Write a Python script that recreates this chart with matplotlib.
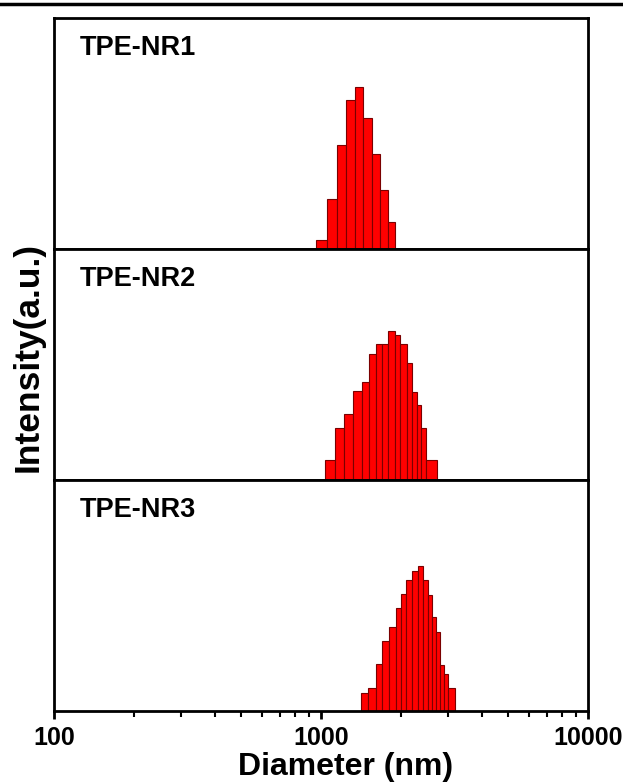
import matplotlib.pyplot as plt
import numpy as np
from matplotlib.ticker import LogLocator, NullFormatter, FixedLocator

plt.rcParams['font.family'] = ['Liberation Sans', 'DejaVu Sans']
plt.rcParams['font.weight'] = 'bold'

labels = ["TPE-NR1", "TPE-NR2", "TPE-NR3"]

# bin edges (nm) and intensities (a.u.)
nr1_edges = [958, 1050, 1145, 1241, 1341, 1440, 1548, 1663, 1787, 1893]
nr1_vals = [9, 50, 104, 149, 162, 131, 95, 59, 27]

nr2_edges = [1035, 1128, 1223, 1314, 1421, 1517, 1607, 1692, 1782, 1893,
             1976, 2093, 2186, 2282, 2368, 2466, 2712]
nr2_vals = [20, 52, 66, 89, 98, 126, 136, 136, 149, 145, 136, 117, 88, 75, 52, 20]

nr3_edges = [1412, 1503, 1603, 1697, 1798, 1904, 1993, 2076, 2186, 2302,
             2416, 2516, 2604, 2696, 2790, 2896, 2998, 3176]
nr3_vals = [18, 23, 47, 70, 84, 103, 117, 131, 140, 145, 131, 116, 94, 79, 46, 37, 23]

data = [(nr1_edges, nr1_vals), (nr2_edges, nr2_vals), (nr3_edges, nr3_vals)]

fig = plt.figure(figsize=(6.23, 7.82), dpi=100)
left, right = 54 / 623, 588 / 623
top, bottom = 1 - 18 / 782, 1 - 711 / 782
h = (top - bottom) / 3

axes = []
for i, (edges, vals) in enumerate(data):
    ax = fig.add_axes([left, top - (i + 1) * h, right - left, h])
    edges = np.array(edges)
    ax.bar(edges[:-1], vals, width=np.diff(edges), align='edge',
           color='#ff0000', edgecolor='#7a0000', linewidth=0.8)
    ax.set_xscale('log')
    ax.set_xlim(100, 10000)
    ax.set_ylim(0, 231)
    ax.set_yticks([])
    ax.text(0.048, 0.87, labels[i], transform=ax.transAxes, fontsize=19.5,
            fontweight='bold', va='center', ha='left')
    for s in ax.spines.values():
        s.set_linewidth(2)
    if i < 2:
        ax.tick_params(axis='x', which='both', bottom=False, labelbottom=False)
    axes.append(ax)

ax = axes[-1]
ax.xaxis.set_major_locator(FixedLocator([100, 1000, 10000]))
ax.xaxis.set_minor_locator(LogLocator(base=10, subs=np.arange(2, 10)))
ax.xaxis.set_minor_formatter(NullFormatter())
ax.set_xticklabels(["100", "1000", "10000"])
ax.tick_params(axis='x', which='major', direction='out', length=6, width=2,
               labelsize=18, pad=5)
ax.tick_params(axis='x', which='minor', direction='out', length=4, width=1.5)

fig.text(346 / 623, 0.5 / 782, "Diameter (nm)", fontsize=23, fontweight='bold',
         ha='center', va='bottom')
fig.text(0.045, (top + bottom) / 2 + 0.01, "Intensity(a.u.)", rotation=90,
         fontsize=25.5, fontweight='bold', va='center', ha='center')

fig.add_artist(plt.Line2D([0, 1], [1 - 4 / 782, 1 - 4 / 782], color='black',
                          linewidth=2.5, transform=fig.transFigure))

fig.savefig("out.png", dpi=100)
